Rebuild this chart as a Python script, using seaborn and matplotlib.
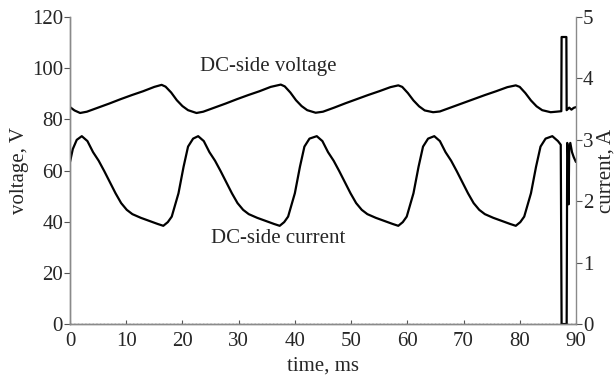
import pandas as pd
import seaborn as sns
import matplotlib.pyplot as plt

# DC-side voltage trace (time in ms, voltage in V)
volt_t = [0.0, 0.8, 1.8, 3.0, 5.0, 7.0, 9.0, 11.0, 13.0, 15.0, 16.3, 17.0, 18.0, 19.0, 20.0, 21.0,
          22.5, 23.7, 25.7, 27.7, 29.7, 31.7, 33.7, 35.7, 37.5, 38.2, 39.2, 40.2, 41.2, 42.2,
          43.7, 45.0, 47.0, 49.0, 51.0, 53.0, 55.0, 57.0, 58.4, 59.1, 60.1, 61.1, 62.1, 63.1,
          64.6, 65.8, 67.8, 69.8, 71.8, 73.8, 75.8, 77.8, 79.3, 80.0, 81.0, 82.0, 83.0, 84.0,
          85.5, 86.5, 87.4, 87.45, 88.3, 88.35, 88.8, 89.2, 89.6, 90.0]
volt_v = [84.8, 83.5, 82.5, 83.0, 84.6, 86.2, 87.9, 89.5, 91.0, 92.7, 93.5, 92.8, 90.5, 87.5, 85.2, 83.6,
          82.5, 83.0, 84.6, 86.2, 87.9, 89.5, 91.0, 92.7, 93.6, 92.9, 90.5, 87.5, 85.2, 83.6,
          82.6, 83.0, 84.6, 86.3, 87.9, 89.5, 91.0, 92.6, 93.3, 92.7, 90.3, 87.4, 85.1, 83.5,
          82.8, 83.1, 84.7, 86.3, 87.9, 89.5, 91.0, 92.6, 93.3, 92.7, 90.3, 87.4, 85.1, 83.6,
          82.8, 83.0, 83.2, 112.2, 112.2, 83.6, 84.6, 83.8, 84.5, 84.8]

# DC-side current trace (time in ms, current in A)
curr_t = [0.0, 0.5, 1.2, 2.1, 3.1, 4.1, 5.1, 6.1, 7.1, 8.1, 9.1, 10.1, 11.1, 12.6, 14.1, 15.6, 16.6,
          17.4, 18.1, 19.3, 20.2, 21.0, 21.9, 22.8, 23.8, 24.8, 25.8, 26.8, 27.8, 28.8, 29.8,
          30.8, 31.8, 33.3, 34.8, 36.3, 37.3, 38.1, 38.8, 40.0, 40.9, 41.7, 42.6, 43.9, 44.9,
          45.9, 46.9, 47.9, 48.9, 49.9, 50.9, 51.9, 52.9, 54.4, 55.9, 57.4, 58.4, 59.2, 59.9,
          61.1, 62.0, 62.8, 63.7, 64.8, 65.8, 66.8, 67.8, 68.8, 69.8, 70.8, 71.8, 72.8, 73.8,
          75.3, 76.8, 78.3, 79.3, 80.1, 80.8, 82.0, 82.9, 83.7, 84.6, 85.8, 86.8, 87.3, 87.45,
          88.35, 88.45, 88.6, 88.7, 88.8, 89.0, 89.3, 89.6, 90.0]
curr_a = [2.64, 2.85, 3.00, 3.06, 2.98, 2.80, 2.66, 2.49, 2.31, 2.13, 1.97, 1.86, 1.79, 1.73, 1.68, 1.63, 1.60,
          1.66, 1.75, 2.13, 2.56, 2.89, 3.02, 3.06, 2.98, 2.80, 2.66, 2.49, 2.31, 2.13, 1.97,
          1.86, 1.79, 1.73, 1.68, 1.63, 1.60, 1.66, 1.75, 2.13, 2.56, 2.89, 3.02, 3.06, 2.98,
          2.80, 2.66, 2.49, 2.31, 2.13, 1.97, 1.86, 1.79, 1.73, 1.68, 1.63, 1.60, 1.66, 1.75,
          2.13, 2.56, 2.89, 3.02, 3.06, 2.98, 2.80, 2.66, 2.49, 2.31, 2.13, 1.97, 1.86, 1.79,
          1.73, 1.68, 1.63, 1.60, 1.66, 1.75, 2.13, 2.56, 2.89, 3.02, 3.06, 2.98, 2.92, 0.0,
          0.0, 2.95, 2.80, 1.95, 2.85, 2.95, 2.80, 2.72, 2.64]

volt = pd.DataFrame({'t': volt_t, 'v': volt_v})
curr = pd.DataFrame({'t': curr_t, 'a': curr_a})

sns.set_style('ticks')
plt.rcParams['font.family'] = ['Liberation Serif', 'DejaVu Serif']
plt.rcParams['font.size'] = 15

fig, ax = plt.subplots(figsize=(6.14, 3.79), dpi=100)
fig.subplots_adjust(left=0.114, right=0.938, bottom=0.145, top=0.955)

sns.lineplot(data=volt, x='t', y='v', ax=ax, color='black', lw=1.6, sort=False, estimator=None)
ax.axhline(0, color='#444444', lw=1.0, ls=':')

ax2 = ax.twinx()
sns.lineplot(data=curr, x='t', y='a', ax=ax2, color='black', lw=1.6, sort=False, estimator=None)

ax.set_xlim(0, 90)
ax.set_ylim(0, 120)
ax2.set_ylim(0, 5)
ax.set_xticks(range(0, 91, 10))
ax.set_yticks(range(0, 121, 20))
ax2.set_yticks(range(0, 6))

ax.set_xlabel('time, ms', labelpad=4)
ax.set_ylabel('voltage, V', labelpad=2)
ax2.set_ylabel('current, A', labelpad=2)

for a in (ax, ax2):
    a.spines['top'].set_visible(False)
    for s in ('left', 'right', 'bottom'):
        a.spines[s].set_color('#8a8a8a')
        a.spines[s].set_linewidth(1.0)
ax.spines['right'].set_visible(False)
ax.tick_params(axis='y', direction='out', length=4, width=0.8, color='#555555', pad=1, labelsize=15)
ax.tick_params(axis='x', direction='in', length=3, width=0.8, color='#555555', pad=6, labelsize=15)
ax2.tick_params(axis='y', direction='out', length=4, width=0.8, color='#555555', pad=1, labelsize=15)

ax.text(35.2, 100.8, 'DC-side voltage', ha='center', va='center', fontsize=15)
ax.text(37.0, 33.5, 'DC-side current', ha='center', va='center', fontsize=15)

fig.savefig('out.png', dpi=100)
